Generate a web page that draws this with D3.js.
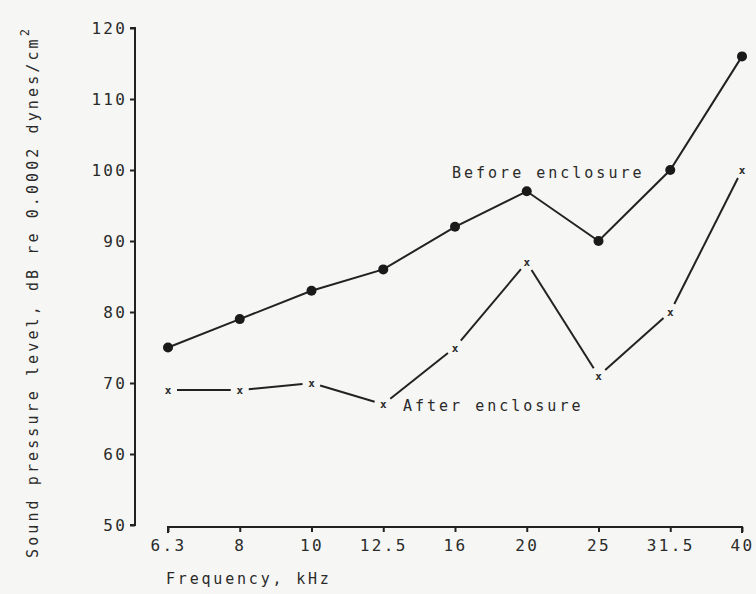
<!DOCTYPE html>
<html><head><meta charset="utf-8">
<script src="https://cdn.jsdelivr.net/npm/d3@7"></script>
<style>
html,body{margin:0;padding:0;background:#f6f6f4;}
svg{display:block;}
text{font-family:"DejaVu Sans Mono",monospace;fill:#2a2a2a;}
</style></head>
<body><svg id="c" width="756" height="594"></svg>
<script>
const categories = ["6.3","8","10","12.5","16","20","25","31.5","40"];
const beforeValues = [75,79,83,86,92,97,90,100,116];
const afterValues = [69,69,70,67,75,87,71,80,100];
const yTicks = [50,60,70,80,90,100,110,120];
const seriesLabels = ["Before enclosure","After enclosure"];

const svg = d3.select("#c");
const x = d3.scalePoint().domain(categories).range([168,742]);
const y = d3.scaleLinear().domain([50,120]).range([525,28]);
const ink = "#222";

// Y axis
const ya = svg.append("g").attr("transform","translate(135,0)")
  .call(d3.axisLeft(y).tickValues(yTicks).tickSize(5).tickPadding(3));
ya.select(".domain").attr("stroke",ink).attr("stroke-width",2).attr("d","M-5,"+y(120)+"H0V"+y(50)+"H-5");
ya.selectAll(".tick line").attr("stroke",ink).attr("stroke-width",2);
ya.selectAll(".tick text").style("font-size","16px").style("letter-spacing","2.2px").attr("fill","#2a2a2a");

// X axis
const xa = svg.append("g").attr("transform","translate(0,527)")
  .call(d3.axisBottom(x).tickSize(6).tickPadding(7));
xa.select(".domain").attr("stroke",ink).attr("stroke-width",2).attr("d","M"+x("6.3")+",6V0H"+x("40")+"V6");
xa.selectAll(".tick line").attr("stroke",ink).attr("stroke-width",2).attr("y1",0).attr("y2",5);
xa.selectAll(".tick text").style("font-size","16px").style("letter-spacing","2.4px").attr("fill","#2a2a2a");

// Axis titles
svg.append("text").attr("x",166).attr("y",584).style("font-size","15px").style("letter-spacing","2.8px")
  .text("Frequency, kHz");
const yt = svg.append("text").attr("transform","translate(38,292) rotate(-90)").attr("text-anchor","middle")
  .style("font-size","15px").style("letter-spacing","3.1px");
yt.append("tspan").text("Sound pressure level, dB re 0.0002 dynes/cm");
yt.append("tspan").attr("dy",-9).style("font-size","12px").text("2");

// Before series
const bData = categories.map((c,i)=>({c,v:beforeValues[i]}));
svg.append("path").datum(bData).attr("fill","none").attr("stroke",ink).attr("stroke-width",2)
  .attr("d",d3.line().x(d=>x(d.c)).y(d=>y(d.v)));
svg.selectAll("circle.b").data(bData).join("circle").attr("class","b")
  .attr("cx",d=>x(d.c)).attr("cy",d=>y(d.v)).attr("r",5).attr("fill","#1a1a1a");

// After series: segments with gaps
const aData = categories.map((c,i)=>({c,v:afterValues[i]}));
const gap = 9;
const segs = d3.pairs(aData).map(([a,b])=>{
  const x1=x(a.c),y1=y(a.v),x2=x(b.c),y2=y(b.v);
  const L=Math.hypot(x2-x1,y2-y1),ux=(x2-x1)/L,uy=(y2-y1)/L;
  return [x1+ux*gap,y1+uy*gap,x2-ux*gap,y2-uy*gap];
});
svg.selectAll("line.a").data(segs).join("line").attr("class","a")
  .attr("x1",d=>d[0]).attr("y1",d=>d[1]).attr("x2",d=>d[2]).attr("y2",d=>d[3])
  .attr("stroke",ink).attr("stroke-width",2);
svg.selectAll("text.a").data(aData).join("text").attr("class","a")
  .attr("x",d=>x(d.c)).attr("y",d=>y(d.v)+4).attr("text-anchor","middle")
  .style("font-size","11px").style("font-weight","bold").attr("fill","#111").text("x");

// Series labels
svg.append("text").attr("x",452).attr("y",178).style("font-size","15px").style("letter-spacing","3px")
  .text(seriesLabels[0]);
svg.append("text").attr("x",403).attr("y",411).style("font-size","15px").style("letter-spacing","3px")
  .text(seriesLabels[1]);
</script></body></html>
